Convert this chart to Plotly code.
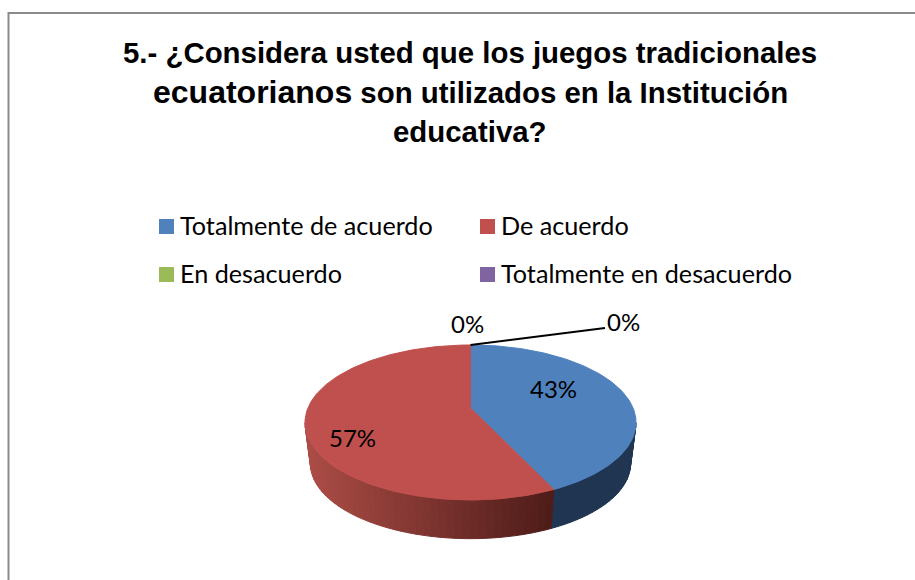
import math
import plotly.graph_objects as go

categories = ["Totalmente de acuerdo", "De acuerdo", "En desacuerdo", "Totalmente en desacuerdo"]
values = [43, 57, 0, 0]
colors = ["#4F81BD", "#C0504D", "#9BBB59", "#8064A2"]
title_lines = [
    "5.- ¿Considera usted que los juegos tradicionales",
    '<span style="font-size:32px">ecuatorianos</span> son utilizados en la Institución',
    "educativa?",
]

W, H = 915, 580
CX, CY_TOP, R, K, B = 470.5, 408.0, 162.6, 0.187, 1.5   # perspective of the pie disc
S, Y_BOTTOM = 0.967, 449.7                               # lower rim of the pie
BODY = "Lato"


def top(t):
    u, v = math.sin(t), math.cos(t)
    w = 1 + K * v
    return CX + R * u / w, (CY_TOP + B * v) / w


def bottom(t):
    x, y = top(t)
    return CX + S * (x - CX), Y_BOTTOM + S * (y - CY_TOP)


def mix(a, b, f):
    return "#" + "".join(f"{round(a[i] + (b[i] - a[i]) * f):02x}" for i in range(3))


def side_color(i, x):
    if i == 0:
        return "#1f3551"
    f = max(0.0, min(1.0, (x - 308) / (555 - 308)))
    return mix((172, 76, 70), (76, 27, 24), f)


def poly(xs, ys, color):
    return go.Scatter(x=xs, y=ys, mode="lines", fill="toself", fillcolor=color,
                      line=dict(color=color, width=1), hoverinfo="skip", showlegend=False)


fig = go.Figure()
total = sum(values)

# slice angle spans, clockwise from the top
spans, acc = [], 0.0
for v in values:
    a0 = acc / total * 2 * math.pi
    acc += v
    spans.append((a0, acc / total * 2 * math.pi))

# outer wall, only the front half is visible
T0, T1 = math.pi / 2 + 0.19, 3 * math.pi / 2 - 0.19
for i, (a0, a1) in enumerate(spans):
    lo, hi = max(a0, T0), min(a1, T1)
    if hi <= lo:
        continue
    n = max(2, int((hi - lo) / 0.04))
    for j in range(n):
        t0 = lo + (hi - lo) * j / n
        t1 = lo + (hi - lo) * (j + 1) / n
        p = [top(t0), top(t1), bottom(t1), bottom(t0), top(t0)]
        xm = sum(q[0] for q in p[:4]) / 4
        fig.add_trace(poly([q[0] for q in p], [q[1] for q in p], side_color(i, xm)))

# top face
for i, (a0, a1) in enumerate(spans):
    if a1 <= a0:
        continue
    n = max(2, int((a1 - a0) / 0.02))
    pts = [(CX, CY_TOP)] + [top(a0 + (a1 - a0) * j / n) for j in range(n + 1)] + [(CX, CY_TOP)]
    fig.add_trace(poly([q[0] for q in pts], [q[1] for q in pts], colors[i]))

# leader line of the zero slice
lead0 = top(0)
fig.add_trace(go.Scatter(x=[lead0[0], 595, 605], y=[lead0[1], 329, 328], mode="lines",
                         line=dict(color="black", width=1.8), hoverinfo="skip", showlegend=False))

# legend
leg_x = [166.5, 487.5, 166.5, 487.5]
leg_y = [226.5, 226.5, 274.5, 274.5]
fig.add_trace(go.Scatter(x=leg_x, y=leg_y, mode="markers",
                         marker=dict(symbol="square", size=15, color=colors, line=dict(width=0)),
                         hoverinfo="skip", showlegend=False))

anns = []
for line, y in zip(title_lines, [52, 92, 131]):
    anns.append(dict(x=470, y=y, text=f"<b>{line}</b>", showarrow=False, xanchor="center", yanchor="middle",
                     font=dict(family="Liberation Sans", size=29.4, color="black")))
for name, x, y in zip(categories, leg_x, leg_y):
    anns.append(dict(x=x + 11, y=y - 1.5, text=name, showarrow=False, xanchor="left", yanchor="middle",
                     font=dict(family=BODY, size=25.2, color="black")))
pct = [f"{round(v / total * 100)}%" for v in values]
for text, x, y in zip(pct, [553, 352, 467, 623], [388, 437, 323, 321]):
    anns.append(dict(x=x, y=y, text=text, showarrow=False, xanchor="center", yanchor="middle",
                     font=dict(family=BODY, size=24, color="black")))

fig.update_layout(
    width=W, height=H, margin=dict(l=0, r=0, t=0, b=0),
    paper_bgcolor="white", plot_bgcolor="white", showlegend=False,
    xaxis=dict(range=[0, W], visible=False, fixedrange=True),
    yaxis=dict(range=[H, 0], visible=False, fixedrange=True),
    annotations=anns,
    shapes=[dict(type="rect", x0=8.5, y0=13, x1=W + 10, y1=H + 10, xref="x", yref="y",
                 line=dict(color="#8a8a8a", width=2), layer="below")],
)

fig.write_html("out.html", post_script="document.body.style.margin='0';", config=dict(displayModeBar=False))
